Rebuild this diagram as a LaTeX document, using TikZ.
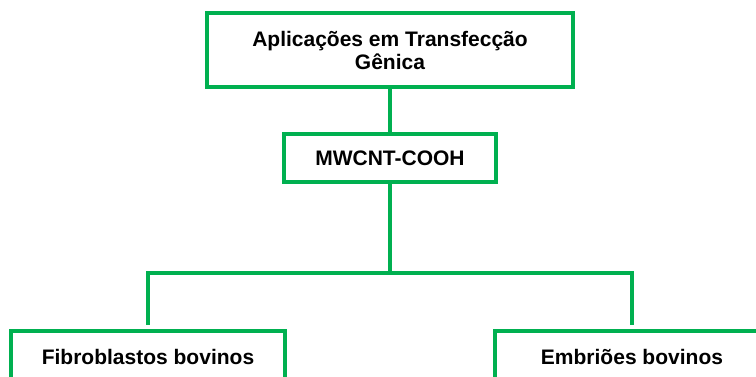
\documentclass[tikz,border=0pt]{standalone}
\usepackage{fontspec}
\setmainfont{Liberation Sans}
\definecolor{boxgreen}{HTML}{00B050}
\begin{document}
\begin{tikzpicture}[x=1pt,y=1pt,
  box/.style={draw=boxgreen,line width=3.5pt,fill=white,align=center,font=\bfseries\fontsize{21}{23}\selectfont,inner sep=0pt},
  link/.style={draw=boxgreen,line width=3.5pt}]
\useasboundingbox (0,0) rectangle (756,-376);
\clip (0,0) rectangle (756,-376);
\node[box,minimum width=366,minimum height=74] (top) at (390,-50) {Aplicações em Transfecção\\Gênica};
\node[box,minimum width=212,minimum height=48] (mw) at (390,-158) {MWCNT-COOH};
\node[box,minimum width=274,minimum height=52] (left) at (148,-357) {Fibroblastos bovinos};
\node[box,minimum width=274,minimum height=52] (right) at (632,-357) {Embriões bovinos};
\coordinate (j) at (390,-273);
\draw[link] (top.south) -- (mw.north);
\draw[link] (mw.south) -- (j);
\draw[link,shorten <=4.5pt,shorten >=4.5pt] (left.north) -- (left.north |- j) -- (right.north |- j) -- (right.north);
\end{tikzpicture}
\end{document}
